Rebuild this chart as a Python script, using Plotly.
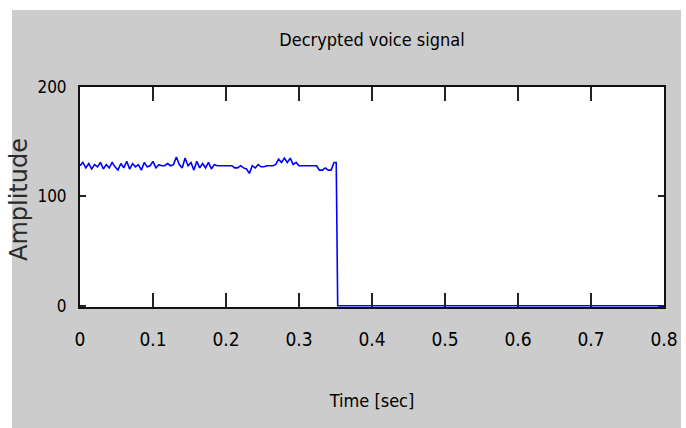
import plotly.graph_objects as go

# Decrypted voice signal: time (s) and amplitude
time_sec = [0.000, 0.004, 0.008, 0.012, 0.016, 0.020, 0.024, 0.028, 0.032, 0.036,
            0.040, 0.044, 0.048, 0.052, 0.056, 0.060, 0.064, 0.068, 0.072, 0.076,
            0.080, 0.084, 0.088, 0.092, 0.096, 0.100, 0.104, 0.108, 0.112, 0.116,
            0.120, 0.124, 0.128, 0.132, 0.136, 0.140, 0.144, 0.148, 0.152, 0.156,
            0.160, 0.164, 0.168, 0.172, 0.176, 0.180, 0.184, 0.188, 0.192, 0.196,
            0.200, 0.204, 0.208, 0.212, 0.216, 0.220, 0.224, 0.228, 0.232, 0.236,
            0.240, 0.244, 0.248, 0.252, 0.256, 0.260, 0.264, 0.268, 0.272, 0.276,
            0.280, 0.284, 0.288, 0.292, 0.296, 0.300, 0.304, 0.308, 0.312, 0.316,
            0.320, 0.324, 0.328, 0.332, 0.336, 0.340, 0.344, 0.348,
            0.351, 0.352, 0.353, 0.800]
amplitude = [128, 131, 126, 130, 125, 129, 127, 131, 125, 129,
             126, 131, 127, 124, 130, 126, 132, 125, 130, 127,
             129, 124, 131, 127, 128, 132, 126, 129, 128, 128,
             130, 128, 129, 136, 129, 126, 135, 128, 131, 124,
             132, 126, 130, 126, 131, 125, 129, 128, 128, 128,
             128, 128, 128, 126, 126, 128, 126, 125, 121, 128,
             126, 129, 127, 127, 128, 128, 128, 129, 134, 131,
             135, 131, 135, 129, 131, 128, 128, 128, 128, 128,
             128, 128, 124, 124, 126, 124, 124, 131,
             131, 63, 0, 0]

x_tick_vals = [0, 0.1, 0.2, 0.3, 0.4, 0.5, 0.6, 0.7, 0.8]
x_tick_text = ["0", "0.1", "0.2", "0.3", "0.4", "0.5", "0.6", "0.7", "0.8"]
y_tick_vals = [0, 100, 200]
y_tick_text = ["0", "100", "200"]

NARROW = "DejaVu Sans Condensed, Liberation Sans Narrow, sans-serif"
W, H = 686, 428
ML, MR, MT, MB = 80, 22, 87, 121
PW, PH = W - ML - MR, H - MT - MB

fig = go.Figure()
fig.add_trace(go.Scatter(x=time_sec, y=amplitude, mode="lines",
                         line=dict(color="#0000ff", width=1.6),
                         showlegend=False, hoverinfo="skip"))

# gray figure panel (MATLAB style) and white axes area
fig.add_shape(type="rect", xref="paper", yref="paper", layer="below",
              x0=(12 - ML) / PW, x1=(681 - ML) / PW,
              y0=-(H - MT - PH) / PH - 0.05, y1=1 + (MT - 10) / PH,
              fillcolor="#cccccc", line=dict(width=0))
fig.add_shape(type="rect", xref="paper", yref="paper", layer="below",
              x0=0, x1=1, y0=0, y1=1, fillcolor="white", line=dict(width=0))

# y-axis title placed as in the reference
fig.add_annotation(text="Amplitude", xref="paper", yref="paper",
                   x=(19 - ML) / PW, y=(307 - 200) / PH, xanchor="center", yanchor="middle",
                   textangle=-90, showarrow=False,
                   font=dict(family="DejaVu Sans, sans-serif", size=24, color="#2a2a2a"))

fig.update_layout(
    width=W, height=H,
    margin=dict(l=ML, r=MR, t=MT, b=MB, autoexpand=False),
    paper_bgcolor="white", plot_bgcolor="white",
    title=dict(text="Decrypted voice signal", x=(ML + PW / 2) / W, xanchor="center",
               y=1 - 40 / H, yanchor="middle", yref="container",
               font=dict(family=NARROW, size=18, color="black")),
    xaxis=dict(range=[0, 0.8], tickvals=x_tick_vals, ticktext=x_tick_text,
               ticks="inside", ticklen=14, tickwidth=1.5, tickcolor="#222",
               showline=True, linecolor="#111", linewidth=2, mirror="ticks",
               showgrid=False, zeroline=False, layer="below traces",
               automargin=False, ticklabelstandoff=14,
               tickfont=dict(family=NARROW, size=19, color="black"),
               title=dict(text="Time [sec]", standoff=46,
                          font=dict(family=NARROW, size=18, color="black"))),
    yaxis=dict(range=[-1.2, 200], tickvals=y_tick_vals, ticktext=y_tick_text,
               ticks="inside", ticklen=6, tickwidth=2, tickcolor="#222",
               showline=True, linecolor="#111", linewidth=2, mirror="ticks",
               showgrid=False, zeroline=False, layer="below traces",
               automargin=False, ticklabelstandoff=8,
               tickfont=dict(family=NARROW, size=17, color="black")),
)

fig.write_html("out.html")
